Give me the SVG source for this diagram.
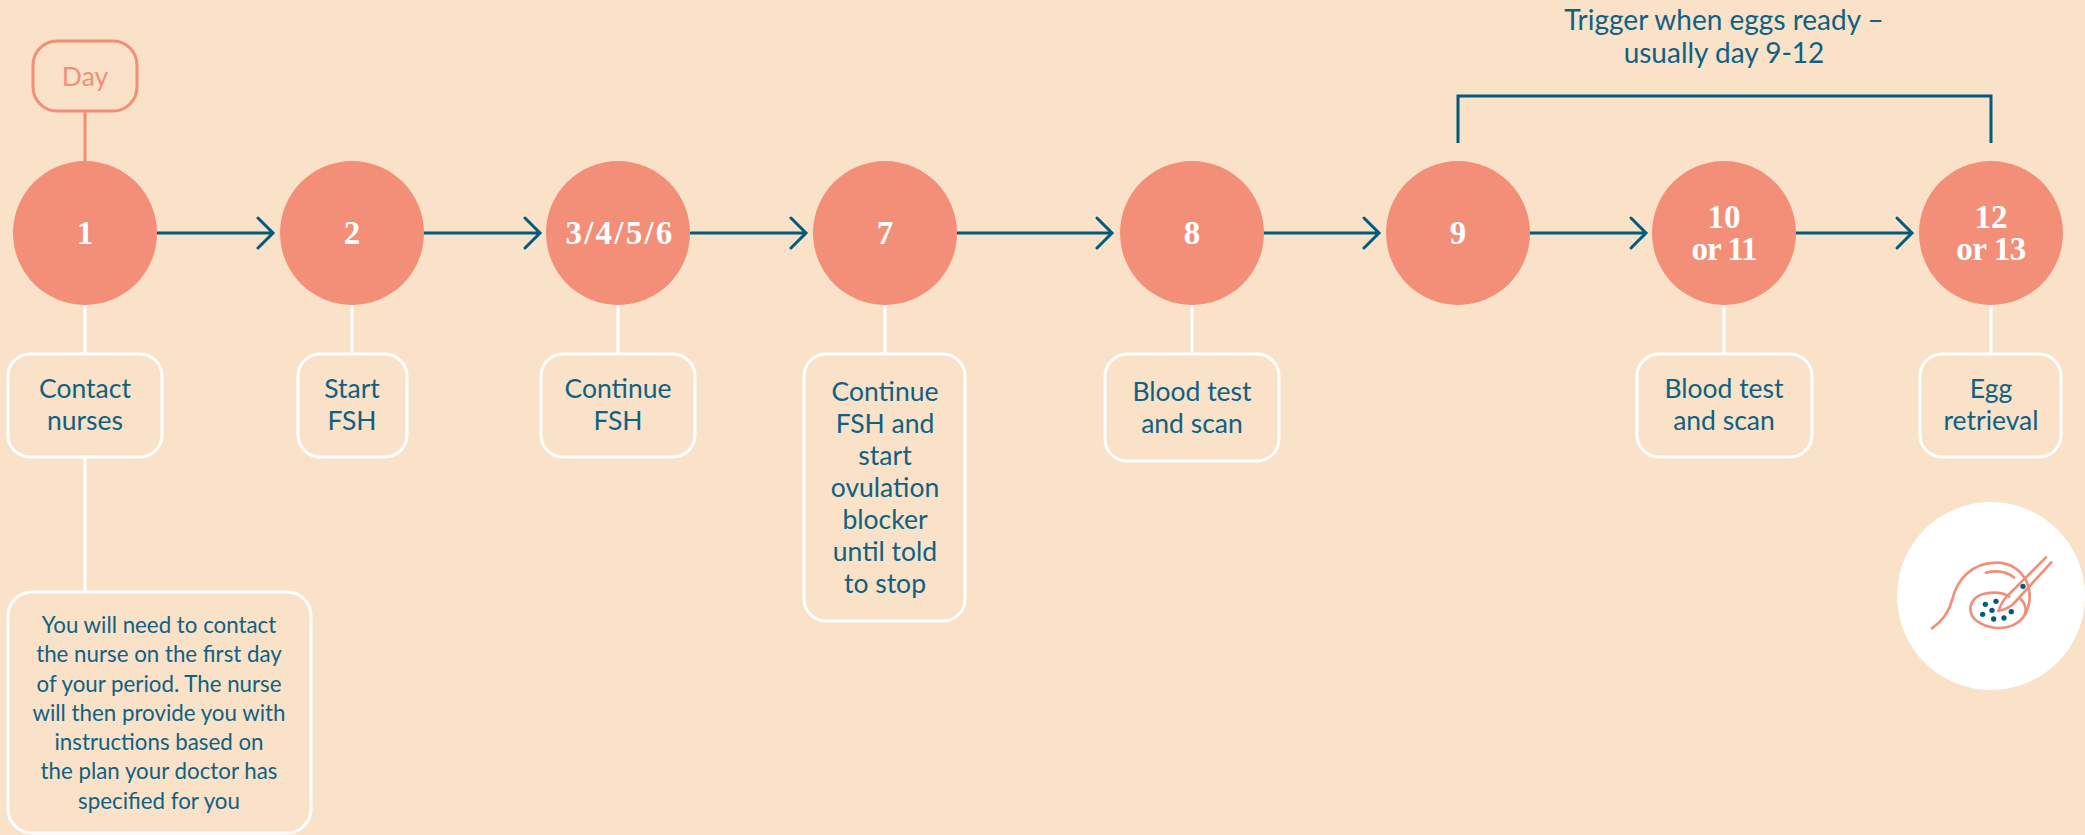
<svg xmlns="http://www.w3.org/2000/svg" width="2085" height="835" viewBox="0 0 2085 835">
<defs><style>
.c{fill:#F38E79}
.b{fill:none;stroke:#fff;stroke-width:3}
.l{stroke:#fff;stroke-width:3;fill:none}
.a{stroke:#005B7F;stroke-width:3;fill:none;stroke-linecap:round;stroke-linejoin:miter}
.n{font-family:"Liberation Serif",serif;font-weight:700;font-size:33px;fill:#fff;text-anchor:middle}
.t{font-family:"Lato",sans-serif;font-size:26.5px;fill:#0F6183;text-anchor:middle}
.s{font-family:"Lato",sans-serif;font-size:22.3px;fill:#0F6183;text-anchor:middle}
.g{font-size:28px}
.i{fill:none;stroke:#F38E79;stroke-width:8;stroke-linecap:round;stroke-linejoin:round}
</style></defs>
<rect width="2085" height="835" fill="#F9E2C8"/>
<g id="connectors">
<path d="M85 111V161" stroke="#F38E79" stroke-width="3" fill="none"/>
<path class="l" d="M85 305V353M85 457V592M352 305V353M618 305V353M885 305V353M1192 305V353M1724 305V353M1991 305V353"/>
<path class="a" d="M157 233H272M258 218L273 233L258 248"/>
<path class="a" d="M424 233H539M525 218L540 233L525 248"/>
<path class="a" d="M691 233H805M791 218L806 233L791 248"/>
<path class="a" d="M957 233H1111M1097 218L1112 233L1097 248"/>
<path class="a" d="M1264 233H1378M1364 218L1379 233L1364 248"/>
<path class="a" d="M1530 233H1645M1631 218L1646 233L1631 248"/>
<path class="a" d="M1796 233H1911M1897 218L1912 233L1897 248"/>
<path class="a" style="stroke-linecap:butt" d="M1458 143V96H1991V143"/>
</g>
<g id="day"><rect x="33" y="41" width="104" height="70" rx="24" fill="none" stroke="#F38E79" stroke-width="3"/><text x="85" y="86" class="t" style="fill:#F38E79">Day</text></g>
<g id="n1"><circle class="c" cx="85" cy="233" r="72"/><text class="n" x="85" y="244">1</text></g>
<g id="n2"><circle class="c" cx="352" cy="233" r="72"/><text class="n" x="352" y="244">2</text></g>
<g id="n3"><circle class="c" cx="618" cy="233" r="72"/><text class="n" x="620" y="244" style="letter-spacing:2.2px">3/4/5/6</text></g>
<g id="n7"><circle class="c" cx="885" cy="233" r="72"/><text class="n" x="885" y="244">7</text></g>
<g id="n8"><circle class="c" cx="1192" cy="233" r="72"/><text class="n" x="1192" y="244">8</text></g>
<g id="n9"><circle class="c" cx="1458" cy="233" r="72"/><text class="n" x="1458" y="244">9</text></g>
<g id="n10"><circle class="c" cx="1724" cy="233" r="72"/><text class="n" x="1724" y="228">10</text><text class="n" x="1724" y="260" style="letter-spacing:-1px">or 11</text></g>
<g id="n12"><circle class="c" cx="1991" cy="233" r="72"/><text class="n" x="1991" y="228">12</text><text class="n" x="1991" y="260" style="letter-spacing:-.5px">or 13</text></g>
<g id="b1"><rect class="b" x="8" y="354" width="154" height="103" rx="22"/><text class="t" x="85" y="398">Contact</text><text class="t" x="85" y="430">nurses</text></g>
<g id="b1d"><rect class="b" x="8" y="592" width="303" height="241" rx="24"/>
<text class="s" x="159" y="633">You will need to contact</text>
<text class="s" x="159" y="662">the nurse on the first day</text>
<text class="s" x="159" y="692">of your period. The nurse</text>
<text class="s" x="159" y="721">will then provide you with</text>
<text class="s" x="159" y="750">instructions based on</text>
<text class="s" x="159" y="779">the plan your doctor has</text>
<text class="s" x="159" y="809">specified for you</text></g>
<g id="b2"><rect class="b" x="298" y="354" width="109" height="103" rx="22"/><text class="t" x="352" y="398">Start</text><text class="t" x="352" y="430">FSH</text></g>
<g id="b3"><rect class="b" x="541" y="354" width="154" height="103" rx="22"/><text class="t" x="618" y="398">Continue</text><text class="t" x="618" y="430">FSH</text></g>
<g id="b7"><rect class="b" x="804" y="354" width="161" height="267" rx="22"/>
<text class="t" x="885" y="401">Continue</text><text class="t" x="885" y="433">FSH and</text><text class="t" x="885" y="465">start</text><text class="t" x="885" y="497">ovulation</text><text class="t" x="885" y="529">blocker</text><text class="t" x="885" y="561">until told</text><text class="t" x="885" y="593">to stop</text></g>
<g id="b8"><rect class="b" x="1105" y="354" width="174" height="107" rx="22"/><text class="t" x="1192" y="401">Blood test</text><text class="t" x="1192" y="433">and scan</text></g>
<g id="b10"><rect class="b" x="1637" y="354" width="175" height="103" rx="22"/><text class="t" x="1724" y="398">Blood test</text><text class="t" x="1724" y="430">and scan</text></g>
<g id="b12"><rect class="b" x="1920" y="354" width="141" height="103" rx="22"/><text class="t" x="1991" y="398">Egg</text><text class="t" x="1991" y="430">retrieval</text></g>
<g id="trigger"><text class="t g" x="1724" y="30">Trigger when eggs ready –</text><text class="t g" x="1724" y="63">usually day 9-12</text></g>
<g id="icon"><circle cx="1991" cy="596" r="94" fill="#fff"/>
<g transform="translate(1860 480) scale(.3333)">
<path class="i" d="M216 445C250 422 268 395 278 355C290 305 330 248 410 248C455 248 485 275 500 305C515 340 510 375 495 405"/>
<path class="i" d="M378 278C410 270 440 275 462 292"/>
<path class="i" d="M448 350C430 338 400 335 370 342C340 350 328 375 332 395C338 425 380 445 420 444C460 442 495 420 497 392C498 378 490 365 482 357"/>
<path class="i" d="M558 232L440 350C428 362 420 380 415 393C432 390 448 382 460 372L574 247"/>
<g fill="#005B7F"><circle cx="489" cy="319" r="8"/><circle cx="376" cy="373" r="8"/><circle cx="408" cy="364" r="8"/><circle cx="396" cy="391" r="8"/><circle cx="368" cy="403" r="8"/><circle cx="401" cy="417" r="8"/><circle cx="432" cy="414" r="8"/><circle cx="454" cy="395" r="8"/></g>
</g></g>
</svg>
